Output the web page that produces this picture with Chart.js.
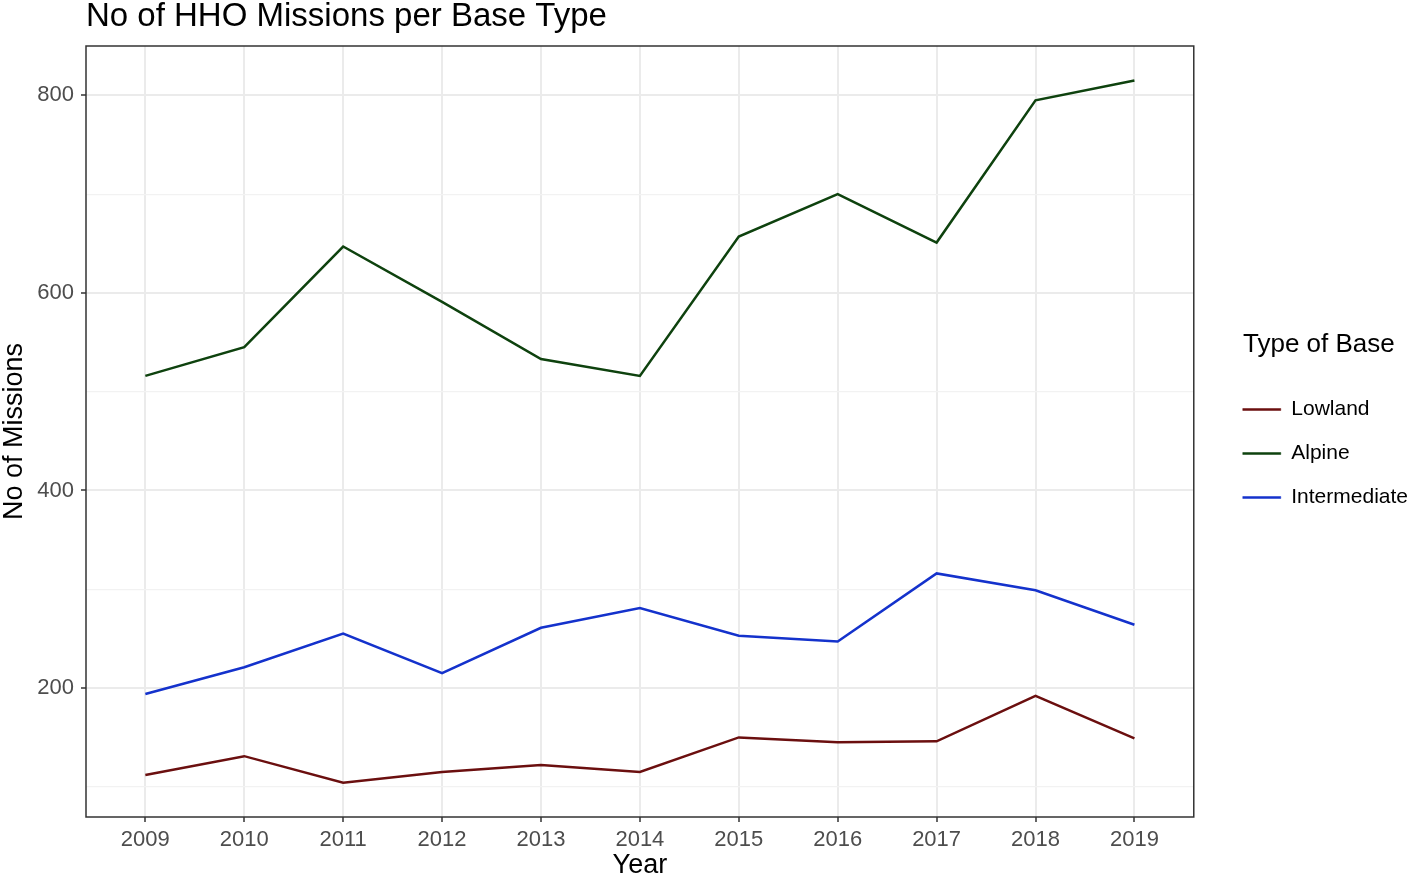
<!DOCTYPE html>
<html>
<head>
<meta charset="utf-8">
<title>No of HHO Missions per Base Type</title>
<script src="https://cdn.jsdelivr.net/npm/chart.js@4.4.1/dist/chart.umd.min.js"></script>
<style>
  html, body { margin: 0; padding: 0; background: #fff; }
  #wrap { width: 1418px; height: 881px; position: relative; }
</style>
</head>
<body>
<div id="wrap"><canvas id="missions"></canvas></div>
<script>
// data
var years = [2009, 2010, 2011, 2012, 2013, 2014, 2015, 2016, 2017, 2018, 2019];
var lowland = [112, 131, 104, 115, 122, 115, 150, 145, 146, 192, 149];
var alpine = [516, 545, 647, 591, 533, 516, 657, 700, 651, 795, 815];
var intermediate = [194, 221, 255, 215, 261, 281, 253, 247, 316, 299, 264];

var seriesNames = ["Lowland", "Alpine", "Intermediate"];
var seriesColors = ["#6b0f0f", "#0e420e", "#1432cc"];
var yMajorTicks = [200, 400, 600, 800];
var yMinorTicks = [100, 300, 500, 700];

var FONT = "'Liberation Sans', Arial, Helvetica, sans-serif";

function toPoints(values) {
    return values.map(function(v, i) { return {x: years[i], y: v}; });
}

function isMajor(v) {
    return yMajorTicks.indexOf(v) !== -1;
}

// full box round the panel, like theme_bw
var panelBorder = {
    id: "panelBorder",
    afterDatasetsDraw: function(chart) {
        var a = chart.chartArea;
        var ctx = chart.ctx;
        ctx.save();
        ctx.strokeStyle = "#333333";
        ctx.lineWidth = 1.5;
        ctx.strokeRect(a.left, a.top, a.right - a.left, a.bottom - a.top);
        ctx.restore();
    }
};

var allSeries = [lowland, alpine, intermediate];

new Chart("missions", {
    type: "line",
    data: {
        datasets: allSeries.map(function(vals, i) {
            return {
                label: seriesNames[i],
                data: toPoints(vals),
                borderColor: seriesColors[i],
                backgroundColor: seriesColors[i],
                borderWidth: 2.5,
                pointRadius: 0,
                tension: 0,
                fill: false
            };
        })
    },
    options: {
        responsive: true,
        maintainAspectRatio: false,
        animation: false,
        layout: { padding: 0 },
        plugins: {
            title: {
                display: true,
                text: "No of HHO Missions per Base Type",
                align: "start",
                fullSize: false,
                color: "#000000",
                font: { family: FONT, size: 33, weight: "normal", lineHeight: 1 },
                padding: { top: 0, bottom: 13 }
            },
            legend: {
                position: "right",
                align: "center",
                fullSize: false,
                title: {
                    display: true,
                    text: "Type of Base",
                    color: "#000000",
                    font: { family: FONT, size: 26, weight: "normal", lineHeight: 1 },
                    padding: { top: 0, bottom: 18 }
                },
                labels: {
                    color: "#1a1a1a",
                    font: { family: FONT, size: 21 },
                    boxWidth: 38,
                    boxHeight: 2,
                    padding: 23,
                    generateLabels: function(chart) {
                        return chart.data.datasets.map(function(ds, i) {
                            return {
                                text: ds.label,
                                fillStyle: ds.borderColor,
                                strokeStyle: ds.borderColor,
                                lineWidth: 0.5,
                                hidden: false,
                                datasetIndex: i
                            };
                        });
                    }
                }
            },
            tooltip: { enabled: false }
        },
        scales: {
            x: {
                type: "linear",
                min: 2008.4,
                max: 2019.6,
                afterBuildTicks: function(scale) {
                    scale.ticks = years.map(function(y) { return {value: y}; });
                },
                afterFit: function(scale) { scale.height = 64; },
                grid: {
                    color: "#ebebeb",
                    lineWidth: 2,
                    tickColor: "#333333",
                    tickLength: 5,
                    tickWidth: 1.5
                },
                border: { display: false },
                ticks: {
                    color: "#4d4d4d",
                    font: { family: FONT, size: 22 },
                    padding: 5,
                    maxRotation: 0,
                    callback: function(v) { return String(v); }
                },
                title: {
                    display: true,
                    text: "Year",
                    color: "#000000",
                    font: { family: FONT, size: 27, lineHeight: 1 },
                    padding: { top: 0, bottom: 2 }
                }
            },
            y: {
                type: "linear",
                min: 69.4,
                max: 850,
                afterBuildTicks: function(scale) {
                    scale.ticks = yMinorTicks.concat(yMajorTicks).sort(function(a, b) { return a - b; })
                        .map(function(v) { return {value: v}; });
                },
                afterFit: function(scale) { scale.width = 86; },
                grid: {
                    color: function(c) { return isMajor(c.tick.value) ? "#ebebeb" : "#f2f2f2"; },
                    lineWidth: function(c) { return isMajor(c.tick.value) ? 2 : 1.2; },
                    tickColor: function(c) { return isMajor(c.tick.value) ? "#333333" : "rgba(0,0,0,0)"; },
                    tickLength: 5,
                    tickWidth: 1.5
                },
                border: { display: false },
                ticks: {
                    color: "#4d4d4d",
                    font: { family: FONT, size: 22 },
                    padding: 7,
                    callback: function(v) { return isMajor(v) ? String(v) : ""; }
                },
                title: {
                    display: true,
                    text: "No of Missions",
                    color: "#000000",
                    font: { family: FONT, size: 27, lineHeight: 1 },
                    padding: { top: 1, bottom: 0 }
                }
            },
            gap: {
                type: "linear",
                axis: "y",
                position: "right",
                display: true,
                grid: { display: false, drawTicks: false },
                border: { display: false },
                ticks: { display: false },
                afterFit: function(scale) { scale.width = 26; }
            }
        }
    },
    plugins: [panelBorder]
});
</script>
</body>
</html>
